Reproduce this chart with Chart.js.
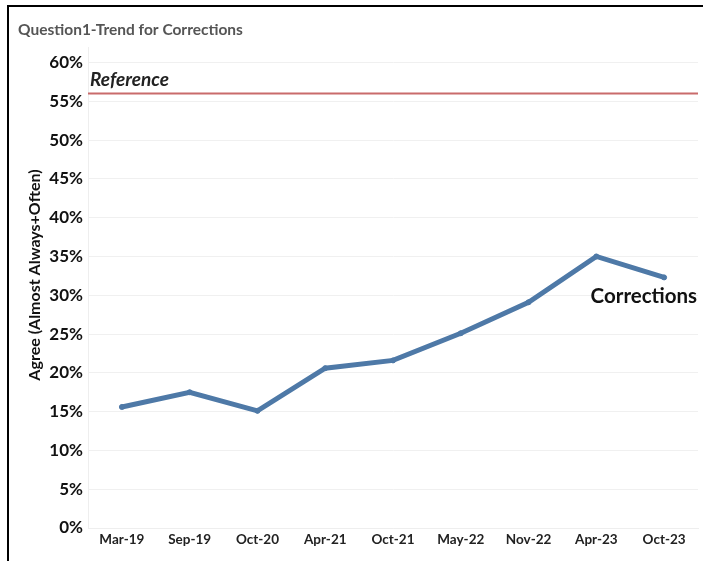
<!DOCTYPE html>
<html>
<head>
<meta charset="utf-8">
<script src="https://cdn.jsdelivr.net/npm/chart.js@4/dist/chart.umd.min.js"></script>
<style>
  html, body { margin: 0; padding: 0; background: #ffffff; }
  #wrap { width: 703px; height: 561px; position: relative; }
</style>
</head>
<body>
<div id="wrap"><canvas id="chart" width="703" height="561"></canvas></div>
<script>
// Survey waves and share agreeing (Almost Always + Often), in percent
const waves = ['Mar-19', 'Sep-19', 'Oct-20', 'Apr-21', 'Oct-21', 'May-22', 'Nov-22', 'Apr-23', 'Oct-23'];
const corrections = [15.6, 17.5, 15.1, 20.6, 21.6, 25.1, 29.1, 35.0, 32.3];
const yTicks = [0, 5, 10, 15, 20, 25, 30, 35, 40, 45, 50, 55, 60];
const referenceValue = 56;

const chartTitle = 'Question1-Trend for Corrections';
const yTitle = 'Agree (Almost Always+Often)';
const referenceLabel = 'Reference';
const seriesLabel = 'Corrections';

const FONT = 'Lato, "Open Sans", "DejaVu Sans", sans-serif';
const BLUE = '#4e79a7';

// Frame, titles, reference line and end-of-series label
const decorations = {
  id: 'decorations',
  beforeDraw(chart) {
    const ctx = chart.ctx;
    ctx.save();
    ctx.fillStyle = '#ffffff';
    ctx.fillRect(0, 0, chart.width, chart.height);
    ctx.fillStyle = '#000000';
    ctx.fillRect(7, 5, chart.width - 7, 2);
    ctx.fillRect(7, 5, 2, chart.height - 5);

    ctx.fillStyle = '#555555';
    ctx.font = 'bold 15.5px ' + FONT;
    ctx.textBaseline = 'middle';
    ctx.textAlign = 'left';
    ctx.fillText(chartTitle, 18, 30);

    // vertical axis title
    ctx.translate(35, 275);
    ctx.rotate(-Math.PI / 2);
    ctx.fillStyle = '#111111';
    ctx.font = 'bold 16px ' + FONT;
    ctx.textAlign = 'center';
    ctx.fillText(yTitle, 0, 0);
    ctx.restore();
  },
  afterDatasetsDraw(chart) {
    const ctx = chart.ctx;
    const area = chart.chartArea;
    const y = chart.scales.y.getPixelForValue(referenceValue);
    ctx.save();
    ctx.strokeStyle = '#c96b6b';
    ctx.lineWidth = 2;
    ctx.beginPath();
    ctx.moveTo(area.left, y);
    ctx.lineTo(area.right, y);
    ctx.stroke();

    ctx.fillStyle = '#222222';
    ctx.font = 'italic bold 19px ' + FONT;
    ctx.textAlign = 'left';
    ctx.textBaseline = 'middle';
    ctx.fillText(referenceLabel, area.left + 2, y - 14);

    const meta = chart.getDatasetMeta(0);
    const last = meta.data[meta.data.length - 1];
    ctx.fillStyle = '#111111';
    ctx.font = 'bold 20.5px ' + FONT;
    ctx.textAlign = 'right';
    ctx.fillText(seriesLabel, last.x + 33, last.y + 19);
    ctx.restore();
  }
};

new Chart(document.getElementById('chart'), {
  type: 'line',
  data: {
    labels: waves,
    datasets: [{
      label: seriesLabel,
      data: corrections,
      borderColor: BLUE,
      backgroundColor: BLUE,
      borderWidth: 5,
      pointRadius: 2.5,
      pointBorderWidth: 1,
      pointHoverRadius: 2.5,
      tension: 0,
      fill: false
    }]
  },
  options: {
    responsive: false,
    animation: false,
    devicePixelRatio: 1,
    layout: { padding: { top: 47, right: 5, left: 0, bottom: 0 } },
    plugins: {
      legend: { display: false },
      tooltip: { enabled: false },
      title: { display: false }
    },
    scales: {
      x: {
        type: 'category',
        offset: true,
        grid: { display: false, drawTicks: false },
        border: { display: true, color: '#eeeeee', width: 1 },
        ticks: {
          color: '#222222',
          font: { family: FONT, size: 13.5, weight: 'bold' },
          padding: 4,
          maxRotation: 0,
          autoSkip: false
        },
        afterFit(scale) { scale.height = 33; }
      },
      y: {
        min: 0,
        max: 62,
        afterBuildTicks(scale) { scale.ticks = yTicks.map(v => ({ value: v })); },
        grid: { color: '#f0f0f0', lineWidth: 1, drawTicks: false },
        border: { display: true, color: '#eeeeee', width: 1 },
        ticks: {
          color: '#111111',
          font: { family: FONT, size: 17, weight: 'bold' },
          padding: 5,
          callback: v => v + '%'
        },
        afterFit(scale) { scale.width = 88; }
      }
    }
  },
  plugins: [decorations]
});
</script>
</body>
</html>
